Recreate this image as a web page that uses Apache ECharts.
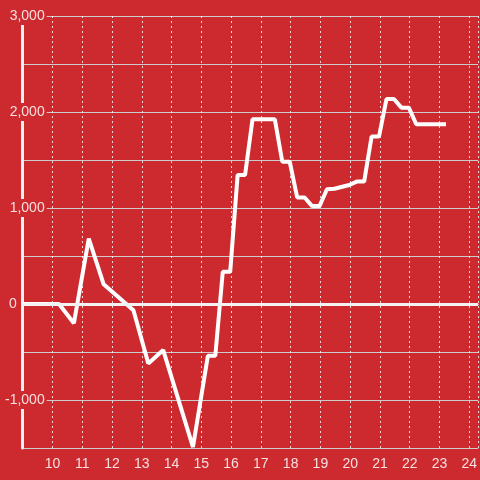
<!DOCTYPE html>
<html lang="en" style="height: 100%">
<head>
<meta charset="utf-8">
<title>Line on red</title>
</head>
<body style="height: 100%; margin: 0">
<div id="container" style="height: 100%"></div>

<script type="text/javascript" src="https://cdn.jsdelivr.net/npm/echarts@6/dist/echarts.min.js"></script>

<script type="text/javascript">
var dom = document.getElementById('container');
var myChart = echarts.init(dom);

// hours of the day and the running value
var hours = [9.0, 10.22, 10.72, 11.22, 11.72, 12.72, 13.22, 13.72, 14.72, 15.22, 15.47,
    15.72, 15.97, 16.22, 16.47, 16.72, 17.47, 17.72, 17.97, 18.22, 18.47, 18.72,
    18.97, 19.22, 19.47, 19.97, 20.22, 20.47, 20.72, 20.97, 21.22, 21.47, 21.72,
    21.97, 22.22, 23.22];
var values = [0, 0, -200, 680, 205, -65, -620, -480, -1490, -540, -540,
    335, 335, 1344, 1344, 1924, 1924, 1482, 1482, 1110, 1110, 1020,
    1020, 1195, 1200, 1240, 1275, 1275, 1745, 1745, 2135, 2135, 2045,
    2045, 1872, 1872];
var xTicks = [10, 11, 12, 13, 14, 15, 16, 17, 18, 19, 20, 21, 22, 23, 24];
var yTicks = [-1000, 0, 1000, 2000, 3000];

var bg = '#cc2a2f';
var textColor = 'rgba(255,255,255,0.85)';

var points = hours.map(function (h, i) { return [h, values[i]]; });

var option = {
    backgroundColor: bg,
    animation: false,
    textStyle: { fontFamily: 'Liberation Sans' },
    grid: { left: 21, right: 0, top: 16, bottom: 32, containLabel: false },
    xAxis: {
        type: 'value',
        min: 9,
        max: 24.3,
        interval: 1,
        axisLine: { lineStyle: { color: '#cccccc', width: 1 } },
        axisTick: { show: false },
        axisLabel: {
            color: textColor,
            fontSize: 14,
            margin: 9,
            showMaxLabel: false,
            formatter: function (v) {
                return xTicks.indexOf(v) >= 0 ? String(v) : '';
            }
        },
        splitLine: {
            show: true,
            lineStyle: { color: 'rgba(255,255,255,0.8)', width: 1, type: [2, 3] }
        }
    },
    yAxis: {
        type: 'value',
        min: -1500,
        max: 3000,
        interval: 500,
        axisLine: { show: true, lineStyle: { color: '#f0f0f0', width: 3 } },
        axisTick: { show: false },
        axisLabel: {
            color: textColor,
            fontSize: 14,
            margin: -24,
            formatter: function (v) {
                if (yTicks.indexOf(v) < 0) return '';
                if (v === 0) return '{z|0}';
                return '{a|' + v.toLocaleString('en-US') + '}';
            },
            rich: {
                a: { color: textColor, fontSize: 14, backgroundColor: bg, padding: [2, 2, 2, 2] },
                z: { color: textColor, fontSize: 14, padding: [0, 30, 0, 0] }
            }
        },
        splitLine: { show: true, lineStyle: { color: '#cccccc', width: 1 } }
    },
    series: [
        {
            type: 'line',
            data: points,
            showSymbol: false,
            symbol: 'none',
            lineStyle: { color: '#ffffff', width: 4 },
            markLine: {
                silent: true,
                symbol: ['none', 'none'],
                label: { show: false },
                lineStyle: { color: '#f2f2f2', width: 3, type: 'solid' },
                data: [{ yAxis: 0 }]
            }
        }
    ]
};

myChart.setOption(option);
window.addEventListener('resize', myChart.resize);
</script>
</body>
</html>
